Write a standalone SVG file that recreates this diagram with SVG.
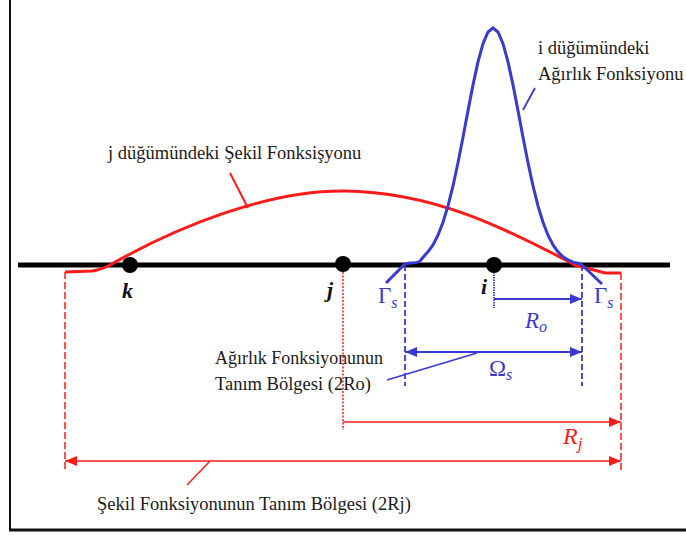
<svg xmlns="http://www.w3.org/2000/svg" width="686" height="535" viewBox="0 0 686 535">
<defs>
<style>
text{font-family:'Liberation Serif','DejaVu Serif','Times New Roman',serif}
.t{font-size:18.5px;fill:#1a1a1a}
.lbl{font-style:italic;font-weight:bold;font-size:22px;fill:#111}
.red{stroke:#ff1a1a;fill:none}
.blue{stroke:#3a3ad0;fill:none}
.rt{font-style:italic;font-size:24px;fill:#ff1a1a}
.bt{font-size:23px;fill:#3a3ad0}
</style>
<marker id="ar" viewBox="0 0 12 10" refX="12" refY="5" markerWidth="12" markerHeight="10" markerUnits="userSpaceOnUse" orient="auto-start-reverse"><path d="M0,0L12,5L0,10z" fill="#ff1a1a"/></marker>
<marker id="ab" viewBox="0 0 12 10" refX="12" refY="5" markerWidth="12" markerHeight="10" markerUnits="userSpaceOnUse" orient="auto-start-reverse"><path d="M0,0L12,5L0,10z" fill="#3a3ad0"/></marker>
</defs>
<rect width="686" height="535" fill="#fff"/>
<g id="frame" stroke="#111" fill="none">
<line x1="10" y1="0" x2="10" y2="530" stroke-width="2"/>
<line x1="9" y1="530" x2="686" y2="530" stroke-width="3"/>
</g>
<g id="axis"><line x1="18" y1="265" x2="670" y2="265" stroke="#000" stroke-width="5"/></g>
<g id="connectors">
<path class="red" stroke-width="3" d="M65,272 L92,271 Q100,270 110,265 C180,225 270,190 345,191 C430,192 500,225 575,265 L605,273 L621,273"/>
<path class="blue" stroke-width="3" d="M386,283 L405,264 L410,263 Q418,263 420,261 L425,255 L428,251.9 L433,244.9 L438,235.2 L443,222.3 L448,205.9 L453,185.9 L458,162.7 L463,137.2 L468,110.6 L473,84.9 L478,61.9 L483,43.7 L488,32 L493,28 L498,32 L503,43.7 L508,61.9 L513,84.9 L518,110.6 L523,137.2 L528,162.7 L533,185.9 L538,205.9 L543,222.3 L548,235.2 L553,244.9 L558,251.9 L563,256.8 L568,260 L573,262.1 L578,263.3 L581,264 L602,284"/>
<g class="red" stroke-width="1.5">
<line x1="65" y1="272" x2="65" y2="472" stroke-dasharray="7,3"/>
<line x1="621" y1="273" x2="621" y2="472" stroke-dasharray="7,3"/>
<line x1="343" y1="272" x2="343" y2="430" stroke-dasharray="2,1.5"/>
<line x1="343" y1="422" x2="621" y2="422" marker-end="url(#ar)"/>
<line x1="65" y1="461" x2="621" y2="461" marker-start="url(#ar)" marker-end="url(#ar)"/>
<line x1="210" y1="461" x2="187" y2="485"/>
<line x1="230" y1="173" x2="248" y2="208" stroke-width="2"/>
</g>
<g class="blue" stroke-width="1.8">
<line x1="405" y1="265" x2="405" y2="386" stroke-dasharray="6,3"/>
<line x1="582" y1="265" x2="582" y2="386" stroke-dasharray="6,3"/>
<line x1="494" y1="272" x2="494" y2="308" stroke-dasharray="1.5,1"/>
<line x1="494" y1="299" x2="582" y2="299" marker-end="url(#ab)"/>
<line x1="405" y1="352" x2="582" y2="352" marker-start="url(#ab)" marker-end="url(#ab)"/>
<line x1="477" y1="353" x2="387" y2="380"/>
<line x1="523" y1="110" x2="535" y2="88"/>
</g>
</g>
<g id="node-k"><circle cx="130" cy="265" r="8" fill="#000"/><text class="lbl" x="122" y="298">k</text></g>
<g id="node-j"><circle cx="343" cy="264" r="8" fill="#000"/><text class="lbl" x="327" y="297">j</text></g>
<g id="node-i"><circle cx="494" cy="265" r="8" fill="#000"/><text class="lbl" x="481" y="294">i</text></g>
<g id="labels">
<text class="t" x="108" y="159">j düğümündeki Şekil Fonksişyonu</text>
<text class="t" x="538" y="54">i düğümündeki</text>
<text class="t" x="538" y="80">Ağırlık Fonksiyonu</text>
<text class="t" x="215" y="364" textLength="168" lengthAdjust="spacingAndGlyphs">Ağırlık Fonksiyonunun</text>
<text class="t" x="215" y="390">Tanım Bölgesi (2Ro)</text>
<text class="t" x="97" y="510">Şekil Fonksiyonunun Tanım Bölgesi (2Rj)</text>
<text class="rt" x="563" y="444">R<tspan font-size="17" dy="5">j</tspan></text>
<text class="bt" x="525" y="328" font-style="italic">R<tspan font-size="16" dy="4">o</tspan></text>
<text class="bt" x="489" y="376">Ω<tspan font-size="16" dy="4" font-style="italic">s</tspan></text>
<text class="bt" x="378" y="303">Γ<tspan font-size="16" dy="5" font-style="italic">s</tspan></text>
<text class="bt" x="594" y="303">Γ<tspan font-size="16" dy="5" font-style="italic">s</tspan></text>
</g>
</svg>
